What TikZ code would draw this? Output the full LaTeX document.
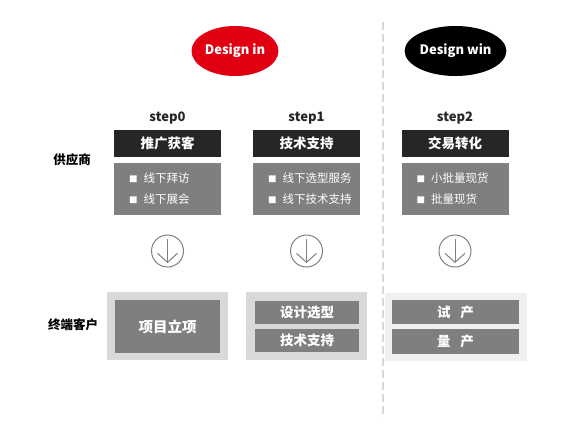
\documentclass[tikz,border=0pt]{standalone}
\usepackage{fontspec}
\setmainfont{Noto Sans CJK SC}
\usetikzlibrary{arrows.meta,calc,positioning,shapes.geometric}
\usepackage{xcolor}
\definecolor{DesignRed}{HTML}{E00012}
\definecolor{HeadDark}{HTML}{262626}
\definecolor{BoxGray}{HTML}{7F7F7F}
\definecolor{PanelGray}{HTML}{D9D9D9}
\definecolor{PanelLight}{HTML}{F0F0F0}
\definecolor{DividerGray}{HTML}{D9D9D9}
\newcommand{\XStepA}{167.5}
\newcommand{\XStepB}{306.5}
\newcommand{\XStepC}{455}
\newcommand{\YEllipse}{51}
\newcommand{\YStep}{118}
\newcommand{\YHead}{143.5}
\newcommand{\YList}{189}
\newcommand{\YIcon}{251}
\newcommand{\YPanel}{326}
\newcommand{\Sq}{{\fontsize{8.5}{8.5}\selectfont ■}\hspace{6pt}}
\newcommand{\StepColumn}[5]{%
  % #1 prefix, #2 x-position, #3 step label, #4 title, #5 list items
  \node[steplabel] (#1lab) at (#2,\YStep) {#3};
  \node[headbox] (#1head) at (#2,\YHead) {#4};
  \node[listbox] (#1list) at (#2,\YList) {};
  \node[listtext] (#1items) at ($(#1list.west)+(15,0)$) {#5};
  \node[iconcircle] (#1icon) at (#2,\YIcon) {};
  \draw[iconarrow] ($(#1icon.north)+(0,4.5)$) -- ($(#1icon.south)+(0,-4.5)$);
}

\begin{document}
\begin{tikzpicture}[
  x=1pt,y=-1pt,
  phase/.style={ellipse,minimum width=87pt,minimum height=50pt,inner sep=0pt,
    text=white,font=\fontsize{13}{15}\selectfont\bfseries},
  steplabel/.style={font=\fontsize{13}{15}\selectfont\bfseries,text=HeadDark},
  headbox/.style={fill=HeadDark,minimum width=107pt,minimum height=27pt,inner sep=0pt,
    text=white,font=\fontsize{13.5}{15}\selectfont\bfseries},
  listbox/.style={fill=BoxGray,minimum width=107pt,minimum height=52pt,inner sep=0pt},
  listtext/.style={anchor=west,align=left,inner sep=0pt,text=white,
    font=\fontsize{11.5}{21}\selectfont},
  iconcircle/.style={circle,draw=BoxGray,line width=1pt,minimum size=32pt,inner sep=0pt},
  iconarrow/.style={draw=BoxGray,line width=1pt,-{Straight Barb[length=9pt,width=20pt]}},
  sidelabel/.style={font=\fontsize{12.5}{14}\selectfont\bfseries,text=black},
  panel/.style={minimum height=68pt,inner sep=0pt},
  grayblock/.style={fill=BoxGray,inner sep=0pt,text=white,
    font=\fontsize{13.5}{15}\selectfont\bfseries},
  divider/.style={draw=DividerGray,line width=1.2pt,dash pattern=on 8pt off 4pt}
]
\useasboundingbox (0,0) rectangle (573,429);

% Divider between design in and design win
\coordinate (divtop) at (383,22);
\coordinate (divbot) at (383,418);
\draw[divider] (divtop) -- (divbot);

% Phase ellipses
\node[phase,fill=DesignRed] (designin) at (235,\YEllipse) {Design in};
\node[phase,fill=black] (designwin) at (455.5,\YEllipse) {Design win};

% Supplier side columns
\StepColumn{A}{\XStepA}{step0}{推广获客}{\Sq 线下拜访\\\Sq 线下展会}
\StepColumn{B}{\XStepB}{step1}{技术支持}{\Sq 线下选型服务\\\Sq 线下技术支持}
\StepColumn{C}{\XStepC}{step2}{交易转化}{\Sq 小批量现货\\\Sq 批量现货}

% Row labels
\node[sidelabel] (supplier) at (72,160) {供应商};
\node[sidelabel] (customer) at (73,325) {终端客户};

% Customer side panels
\node[panel,fill=PanelGray,minimum width=121pt] (Apanel) at (\XStepA,\YPanel) {};
\node[grayblock,minimum width=105pt,minimum height=53pt,font=\fontsize{14.5}{16}\selectfont\bfseries] (Ablock) at (\XStepA,326.5) {项目立项};

\node[panel,fill=PanelGray,minimum width=121pt] (Bpanel) at (\XStepB,\YPanel) {};
\node[grayblock,minimum width=104pt,minimum height=23pt] (Bblock1) at (307,312.5) {设计选型};
\node[grayblock,minimum width=104pt,minimum height=23pt] (Bblock2) at (307,340.5) {技术支持};

\node[panel,fill=PanelLight,minimum width=142pt] (Cpanel) at (456,326.5) {};
\node[grayblock,minimum width=127pt,minimum height=24pt] (Cblock1) at (455.5,312) {试\hspace{10pt}产};
\node[grayblock,minimum width=127pt,minimum height=25pt] (Cblock2) at (455.5,341.5) {量\hspace{10pt}产};

\end{tikzpicture}
\end{document}
